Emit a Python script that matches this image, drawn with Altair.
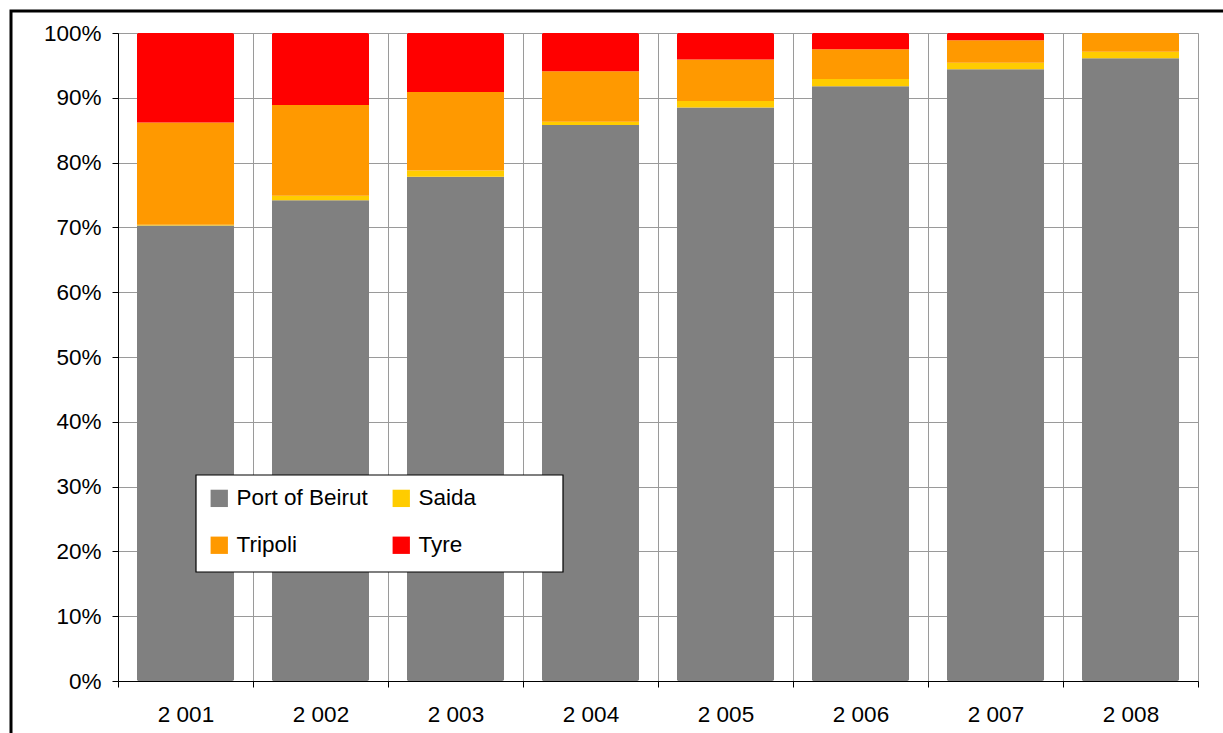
import altair as alt
import pandas as pd

years = ["2 001", "2 002", "2 003", "2 004", "2 005", "2 006", "2 007", "2 008"]
ports = ["Port of Beirut", "Saida", "Tripoli", "Tyre"]
colors = ["#808080", "#FFCC00", "#FF9900", "#FF0000"]

# share of traffic per port, in percent
beirut = [70.3, 74.2, 77.8, 85.8, 88.5, 91.8, 94.4, 96.1]
saida = [0.1, 0.7, 1.0, 0.5, 1.0, 1.1, 1.0, 1.0]
tripoli = [15.8, 14.0, 12.1, 7.8, 6.4, 4.6, 3.5, 2.9]
tyre = [13.8, 11.1, 9.1, 5.9, 4.1, 2.5, 1.1, 0.0]

series = [beirut, saida, tripoli, tyre]
rows = []
for k, (name, vals) in enumerate(zip(ports, series)):
    for y, v in zip(years, vals):
        rows.append({"year": y, "port": name, "share": v, "rank": k})
df = pd.DataFrame(rows)

FONT = "Liberation Sans"
FS = 22.5
GRID = "#9a9a9a"

bars = alt.Chart(df).mark_bar(cornerRadius=2, width=alt.RelativeBandSize(0.72)).encode(
    x=alt.X("year:N", sort=years, title=None,
            scale=alt.Scale(paddingInner=0, paddingOuter=0),
            axis=alt.Axis(labelAngle=0, tickBand="extent", grid=True,
                          gridColor=GRID, gridWidth=1,
                          domainColor="#000000", tickColor="#000000",
                          tickSize=6, labelPadding=16, labelFontSize=FS,
                          labelFont=FONT, labelColor="#000000")),
    y=alt.Y("share:Q", stack="normalize", title=None,
            scale=alt.Scale(domain=[0, 1]),
            axis=alt.Axis(format=".0%", values=[i / 10 for i in range(11)],
                          grid=True, gridColor=GRID, gridWidth=1,
                          domainColor="#000000", tickColor="#000000",
                          tickSize=6, labelPadding=11, labelFontSize=FS,
                          labelFont=FONT, labelColor="#000000")),
    color=alt.Color("port:N", sort=ports,
                    scale=alt.Scale(domain=ports, range=colors),
                    legend=alt.Legend(orient="none", legendX=90, legendY=454,
                                      title=None, columns=2, direction="horizontal",
                                      symbolType="square", symbolSize=300,
                                      symbolStrokeWidth=0, labelFontSize=FS,
                                      labelFont=FONT, labelColor="#000000",
                                      labelOffset=6, columnPadding=22,
                                      rowPadding=24, padding=0)),
    order=alt.Order("rank:Q", sort="ascending"),
)

one = pd.DataFrame({"k": [0]})

# outer chart frame
frame = alt.Chart(one).mark_rect(fill=None, stroke="#000000", strokeWidth=3).encode(
    x=alt.value(-107), x2=alt.value(1115), y=alt.value(-22), y2=alt.value(712)
)

# legend box
legend_box = alt.Chart(one).mark_rect(fill="#ffffff", stroke="#000000", strokeWidth=1.2).encode(
    x=alt.value(78), x2=alt.value(445), y=alt.value(442), y2=alt.value(539)
)

chart = alt.layer(frame, bars, legend_box).properties(
    width=1080, height=648,
    padding={"left": 118, "top": 33, "right": 25, "bottom": 52},
    autosize=alt.AutoSizeParams(type="none"),
).configure_view(stroke=GRID, strokeWidth=1.5).configure(background="#ffffff")

chart.save("out.html", embed_options={"renderer": "svg", "actions": False})
